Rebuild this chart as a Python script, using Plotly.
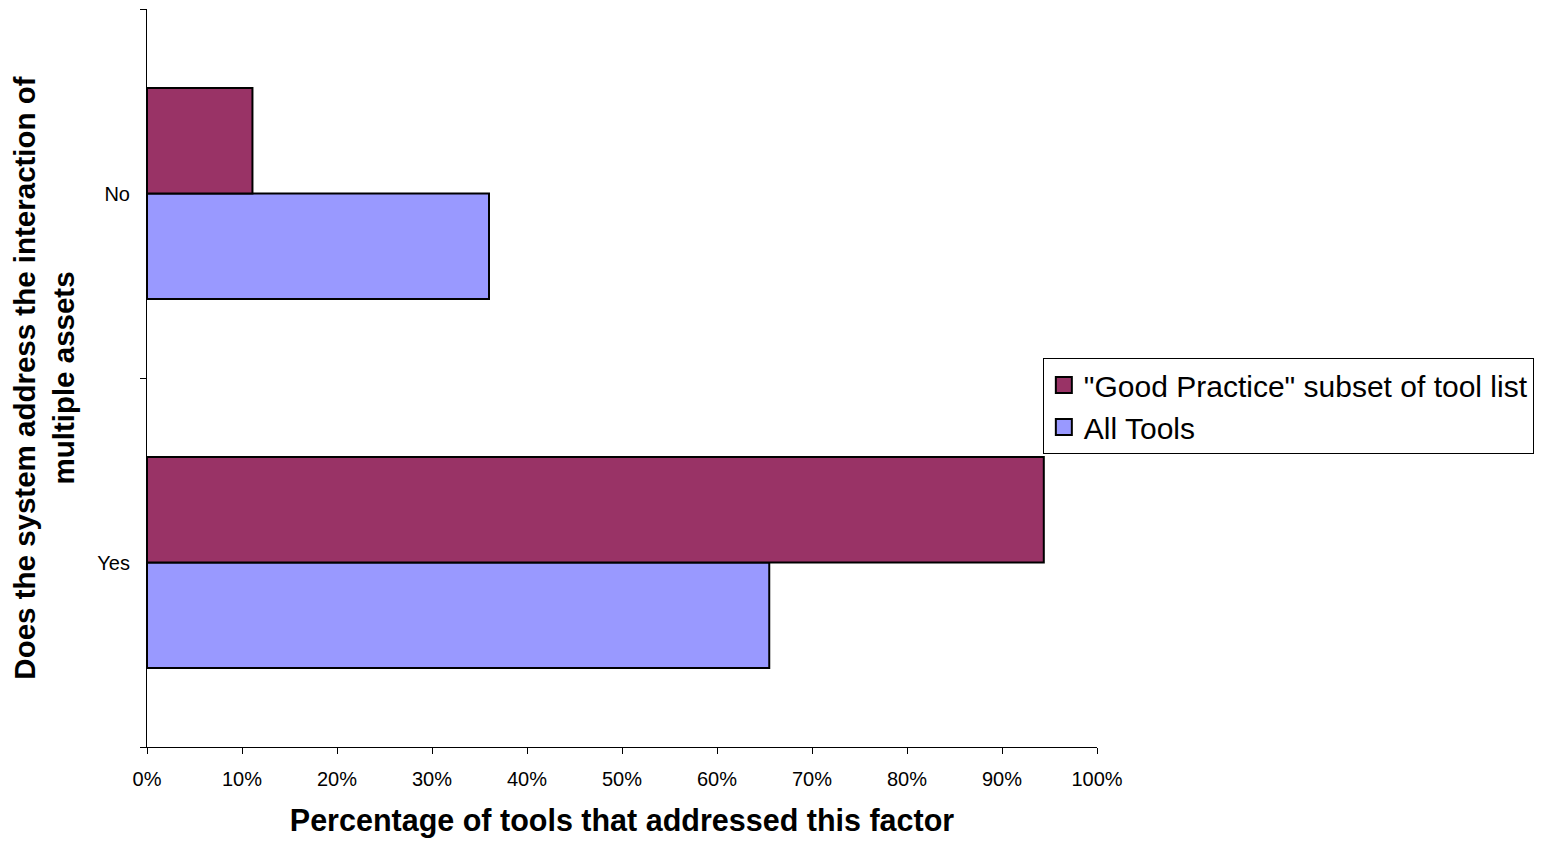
import plotly.graph_objects as go

# Categories and shares (fractions of tools)
categories = ["Yes", "No"]
good_practice = [0.944, 0.111]
all_tools = [0.655, 0.360]

series_names = ['"Good Practice" subset of tool list', "All Tools"]
series_colors = ["#993366", "#9999FF"]
x_ticks = [i / 10 for i in range(11)]
x_tick_labels = [f"{i * 10}%" for i in range(11)]

FONT = "Liberation Sans, Arial, sans-serif"

fig = go.Figure()
fig.add_trace(go.Bar(
    y=categories, x=all_tools, orientation="h", name=series_names[1],
    marker=dict(color=series_colors[1], line=dict(color="black", width=2)),
    showlegend=False,
))
fig.add_trace(go.Bar(
    y=categories, x=good_practice, orientation="h", name=series_names[0],
    marker=dict(color=series_colors[0], line=dict(color="black", width=2)),
    showlegend=False,
))

# Legend entries with larger square swatches
for name, color in zip(series_names, series_colors):
    fig.add_trace(go.Scatter(
        x=[None], y=[None], mode="markers", name=name,
        marker=dict(symbol="square", size=16, color=color,
                    line=dict(color="black", width=2)),
    ))

fig.update_layout(
    width=1542, height=841,
    margin=dict(l=147, r=444, t=9, b=94),
    paper_bgcolor="white", plot_bgcolor="white",
    barmode="group", bargap=0.428, bargroupgap=0,
    font=dict(family=FONT, color="black"),
    showlegend=True,
    legend=dict(
        traceorder="normal",
        x=0.942, y=0.527, xanchor="left", yanchor="top",
        bordercolor="black", borderwidth=1, bgcolor="white",
        font=dict(size=30, family=FONT),
        itemwidth=30, tracegroupgap=0,
    ),
    xaxis=dict(
        range=[0, 1], tickvals=x_ticks, ticktext=x_tick_labels,
        showgrid=False, zeroline=False, showline=True, linecolor="black", linewidth=1,
        ticks="outside", ticklen=6, tickcolor="black",
        tickfont=dict(size=20), ticklabelstandoff=8,
        title=dict(text="<b>Percentage of tools that addressed this factor</b>",
                   font=dict(size=30.5), standoff=20),
    ),
    yaxis=dict(
        showgrid=False, zeroline=False, showline=True, linecolor="black", linewidth=1,
        ticks="outside", ticklen=6, tickcolor="black", tickson="boundaries",
        tickfont=dict(size=20), ticklabelstandoff=12,
        title=dict(text="<b>Does the system address the interaction of<br>multiple assets</b>",
                   font=dict(size=29.5), standoff=14),
    ),
)

fig.write_html("out.html")
